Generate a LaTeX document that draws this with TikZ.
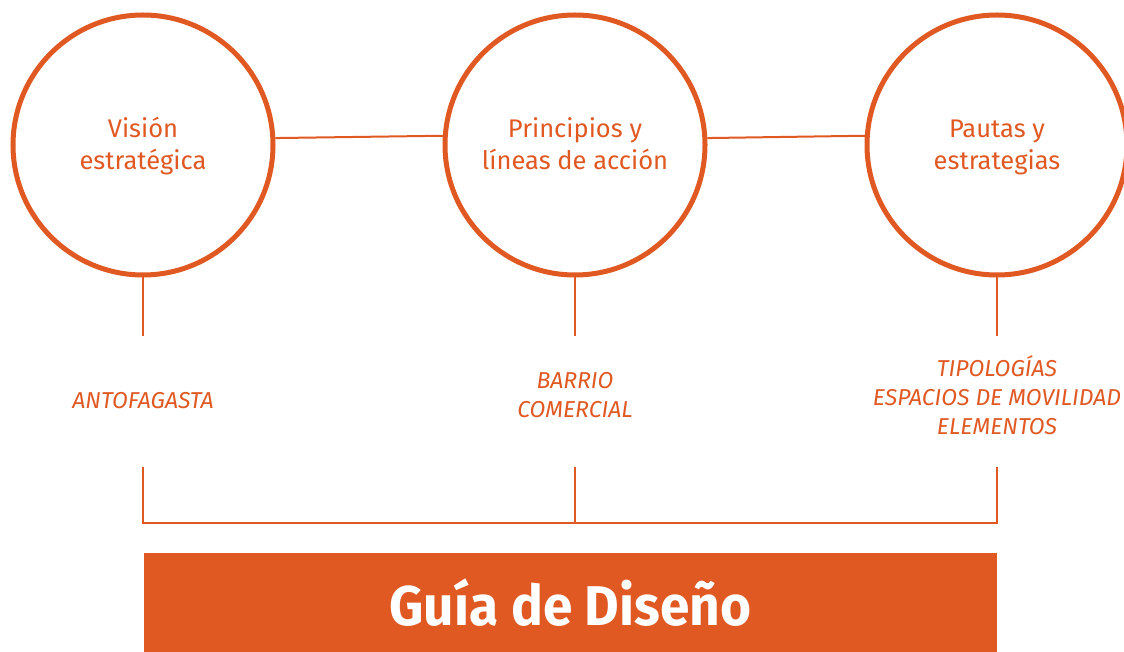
\documentclass[tikz,border=0pt]{standalone}
\usepackage{fontspec}
\setmainfont{Fira Sans}
\definecolor{orng}{RGB}{224,88,34}
\newcommand\ringtop{\rule[-7pt]{0pt}{28.5pt}}
\newcommand\ringbot{\rule[-3.5pt]{0pt}{25pt}}
\newcommand\lblstrut{\rule[-7pt]{0pt}{22pt}}
\begin{document}
\begin{tikzpicture}[x=1pt,y=-1pt,
  ring/.style={circle,draw=orng,line width=5pt,minimum size=260pt,inner sep=0pt,text=orng,
    font=\fontsize{25.5}{32}\selectfont,align=center},
  conn/.style={draw=orng,line width=2pt},
  lbl/.style={text=orng,font=\fontsize{23}{29}\selectfont\itshape,align=center,inner sep=0pt},
  titlebox/.style={fill=orng,minimum width=853pt,minimum height=99pt,inner sep=0pt,text=white,
    font=\fontsize{56}{60}\selectfont\bfseries}]
\useasboundingbox (0,0) rectangle (1124,652);
\node[ring] (c1) at (143,145) {\ringtop Visión\\\ringbot estratégica};
\node[ring] (c2) at (575,145) {\ringtop Principios y\\\ringbot líneas de acción};
\node[ring] (c3) at (997,145) {\ringtop Pautas y\\\ringbot estrategias};
\draw[conn] (c1.3.2) -- (c2.176.8);
\draw[conn] (c2.3.2) -- (c3.176.8);
\coordinate (a1) at (143,336);
\coordinate (a2) at (575,336);
\coordinate (a3) at (997,336);
\draw[conn] (c1.south) -- (a1);
\draw[conn] (c2.south) -- (a2);
\draw[conn] (c3.south) -- (a3);
\node[lbl] (l1) at (143,404) {\lblstrut ANTOFAGASTA};
\node[lbl] (l2) at (575,398.5) {\lblstrut BARRIO\\\lblstrut COMERCIAL};
\node[lbl] (l3) at (997,399) {\lblstrut TIPOLOGÍAS\\\lblstrut ESPACIOS DE MOVILIDAD\\\lblstrut ELEMENTOS};
\coordinate (b1) at (143,467);
\coordinate (b2) at (575,467);
\coordinate (b3) at (997,467);
\coordinate (m2) at (575,523);
\draw[conn] (b1) |- (m2) -| (b3);
\draw[conn] (b2) -- (m2);
\node[titlebox] (t) at (570.5,602.5) {\scalebox{0.95}[1]{Guía de Diseño}};
\end{tikzpicture}
\end{document}
